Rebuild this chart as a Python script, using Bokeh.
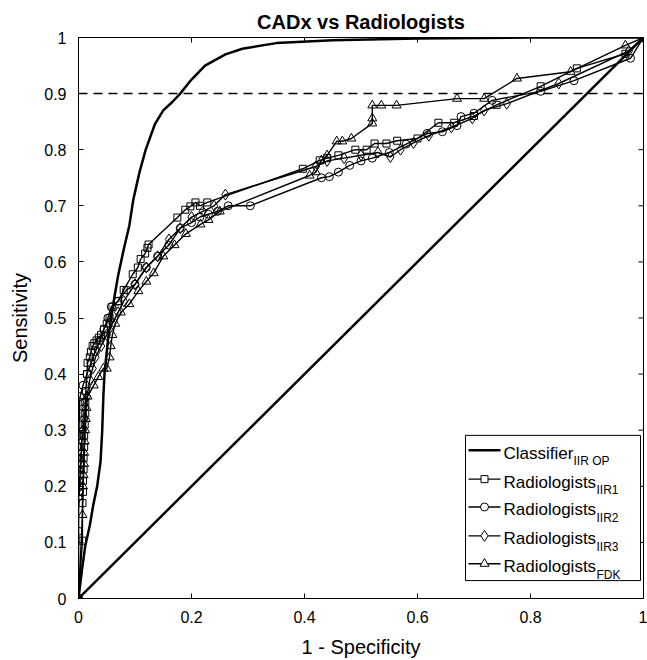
import math
from bokeh.plotting import figure
from bokeh.models import Range1d, FixedTicker, NumeralTickFormatter, Span
from bokeh.embed import file_html
from bokeh.resources import INLINE
from bokeh.core.properties import value

# ---------------- data ----------------
classifier_x = [0, 0.006, 0.012, 0.02, 0.026, 0.033, 0.039, 0.042, 0.044, 0.046, 0.049, 0.053,
                0.062, 0.07, 0.08, 0.09, 0.097, 0.108, 0.119, 0.135, 0.15, 0.166, 0.18, 0.2,
                0.224, 0.26, 0.29, 0.35, 0.45, 0.6, 0.8, 1.0]
classifier_y = [0, 0.05, 0.094, 0.13, 0.166, 0.2, 0.244, 0.3, 0.36, 0.4, 0.43, 0.468,
                0.528, 0.575, 0.622, 0.665, 0.711, 0.76, 0.8, 0.845, 0.87, 0.885, 0.9, 0.925,
                0.95, 0.97, 0.98, 0.99, 0.995, 0.998, 1.0, 1.0]

iir1_x = [0, 0.007, 0.007, 0.008, 0.008, 0.009, 0.009, 0.010, 0.010, 0.011, 0.012, 0.012, 0.013,
          0.015, 0.016, 0.020, 0.022, 0.025, 0.028, 0.032, 0.036, 0.040, 0.045, 0.050, 0.055,
          0.060, 0.070, 0.080, 0.096, 0.105, 0.110, 0.118, 0.122, 0.124, 0.175, 0.189, 0.198,
          0.207, 0.215, 0.228, 0.397, 0.427, 0.44, 0.46, 0.49, 0.51, 0.524, 0.545, 0.564, 0.60,
          0.637, 0.665, 0.70, 0.74, 0.818, 0.882, 0.968, 1.0]
iir1_y = [0, 0.103, 0.17, 0.19, 0.21, 0.23, 0.25, 0.27, 0.29, 0.31, 0.33, 0.35, 0.37,
          0.40, 0.42, 0.43, 0.44, 0.45, 0.455, 0.46, 0.465, 0.47, 0.48, 0.49, 0.50,
          0.52, 0.53, 0.55, 0.578, 0.59, 0.605, 0.615, 0.625, 0.631, 0.679, 0.693, 0.699,
          0.706, 0.70, 0.706, 0.766, 0.781, 0.785, 0.79, 0.80, 0.80, 0.811, 0.811, 0.816, 0.82,
          0.848, 0.848, 0.86, 0.88, 0.913, 0.945, 0.971, 1.0]

iir2_x = [0, 0.0, 0.0, 0.0, 0.0, 0.0, 0.0, 0.001, 0.001, 0.002, 0.002, 0.003, 0.008, 0.015,
          0.022, 0.030, 0.038, 0.045, 0.052, 0.058, 0.07, 0.085, 0.10, 0.12, 0.14, 0.16, 0.18,
          0.20, 0.215, 0.23, 0.246, 0.265, 0.304, 0.43, 0.444, 0.46, 0.48, 0.50, 0.52, 0.55,
          0.58, 0.617, 0.644, 0.67, 0.677, 0.70, 0.732, 0.818, 0.877, 0.977, 1.0]
iir2_y = [0, 0.12, 0.19, 0.21, 0.23, 0.25, 0.27, 0.29, 0.31, 0.33, 0.35, 0.36, 0.38, 0.40,
          0.42, 0.44, 0.46, 0.48, 0.50, 0.52, 0.53, 0.55, 0.56, 0.59, 0.61, 0.63, 0.66,
          0.67, 0.68, 0.685, 0.69, 0.70, 0.70, 0.75, 0.752, 0.76, 0.772, 0.78, 0.785, 0.795,
          0.81, 0.829, 0.832, 0.843, 0.859, 0.865, 0.888, 0.904, 0.923, 0.963, 1.0]

iir3_x = [0, 0.0, 0.002, 0.003, 0.004, 0.005, 0.006, 0.008, 0.01, 0.012, 0.015, 0.02, 0.025,
          0.03, 0.04, 0.05, 0.06, 0.07, 0.08, 0.10, 0.12, 0.14, 0.16, 0.18, 0.20, 0.22, 0.24,
          0.26, 0.42, 0.44, 0.47, 0.50, 0.53, 0.552, 0.57, 0.593, 0.62, 0.66, 0.697, 0.718,
          0.758, 0.85, 0.974, 1.0]
iir3_y = [0, 0.18, 0.20, 0.22, 0.24, 0.26, 0.28, 0.30, 0.32, 0.34, 0.36, 0.39, 0.41,
          0.43, 0.45, 0.47, 0.49, 0.51, 0.53, 0.56, 0.59, 0.61, 0.64, 0.66, 0.68, 0.69, 0.70,
          0.72, 0.77, 0.78, 0.785, 0.79, 0.795, 0.787, 0.80, 0.812, 0.825, 0.84, 0.856, 0.87,
          0.882, 0.918, 0.976, 1.0]

fdk_x = [0, 0.007, 0.008, 0.009, 0.010, 0.010, 0.011, 0.012, 0.013, 0.014, 0.016, 0.027,
         0.035, 0.044, 0.05, 0.055, 0.057, 0.06, 0.065, 0.075, 0.09, 0.106, 0.12, 0.133, 0.15,
         0.17, 0.19, 0.216, 0.23, 0.25, 0.409, 0.42, 0.43, 0.44, 0.457, 0.467, 0.483, 0.52,
         0.52, 0.52, 0.536, 0.563, 0.67, 0.718, 0.776, 0.871, 0.968, 1.0]
fdk_y = [0, 0.149, 0.20, 0.22, 0.24, 0.26, 0.28, 0.30, 0.32, 0.34, 0.36, 0.38,
         0.395, 0.41, 0.41, 0.43, 0.45, 0.47, 0.49, 0.51, 0.525, 0.548, 0.565, 0.58, 0.61,
         0.63, 0.65, 0.667, 0.675, 0.69, 0.754, 0.76, 0.781, 0.79, 0.815, 0.815, 0.82, 0.847,
         0.856, 0.879, 0.879, 0.879, 0.891, 0.891, 0.927, 0.939, 0.986, 1.0]

x_ticks = [0, 0.2, 0.4, 0.6, 0.8, 1.0]
y_ticks = [0, 0.1, 0.2, 0.3, 0.4, 0.5, 0.6, 0.7, 0.8, 0.9, 1.0]
target_sensitivity = 0.9

legend_names = ["Classifier", "Radiologists", "Radiologists", "Radiologists", "Radiologists"]
legend_subs = ["IIR OP", "IIR1", "IIR2", "IIR3", "FDK"]

# ---------------- figure ----------------
FONT = "Liberation Sans"
p = figure(width=647, height=660, output_backend="svg", toolbar_location=None,
           x_range=Range1d(0, 1), y_range=Range1d(0, 1),
           min_border_left=78, min_border_right=4, min_border_top=37, min_border_bottom=59,
           title="CADx vs Radiologists")
p.title.align = "center"
p.title.text_font = FONT
p.title.text_font_size = "20px"
p.title.text_font_style = "bold"
p.title.text_color = "black"
p.xgrid.visible = False
p.ygrid.visible = False
p.outline_line_color = "black"
p.outline_line_alpha = 1
p.background_fill_color = "white"
p.border_fill_color = "white"

def style_axis(ax, ticks):
    ax.ticker = FixedTicker(ticks=ticks)
    ax.formatter = NumeralTickFormatter(format="0.[0]")
    ax.major_tick_in = 5
    ax.major_tick_out = 0
    ax.minor_tick_line_color = None
    ax.axis_line_color = "black"
    ax.major_tick_line_color = "black"
    ax.major_label_text_font = FONT
    ax.major_label_text_color = "black"
    ax.major_label_text_font_size = "16px"
    ax.major_label_standoff = 12
    ax.axis_label_text_font = FONT
    ax.axis_label_text_font_size = "20px"
    ax.axis_label_text_font_style = "normal"
    ax.axis_label_text_color = "black"
    ax.axis_label_standoff = 10

style_axis(p.xaxis[0], x_ticks)
style_axis(p.yaxis[0], y_ticks)
p.xaxis[0].axis_label = "1 - Specificity"
p.yaxis[0].axis_label = "Sensitivity"

# inward ticks on the top and right edges of the box
p.ray(x=x_ticks, y=[1] * len(x_ticks), length=5, length_units="screen",
      angle=-math.pi / 2, line_color="black", line_width=1)
p.ray(x=[1] * len(y_ticks), y=y_ticks, length=5, length_units="screen",
      angle=math.pi, line_color="black", line_width=1)

# chance line and target sensitivity
p.line([0, 1], [0, 1], line_color="black", line_width=2.5)
p.add_layout(Span(location=target_sensitivity, dimension="width", line_color="black",
                  line_width=1.5, line_dash="9 6"))

# classifier
p.line(classifier_x, classifier_y, line_color="black", line_width=2.5)

series = [(iir1_x, iir1_y, "square", 7),
          (iir2_x, iir2_y, "circle", 8),
          (iir3_x, iir3_y, "diamond", 11),
          (fdk_x, fdk_y, "triangle", 9)]
for xs, ys, mk, sz in series:
    p.line(xs, ys, line_color="black", line_width=1.4)
    p.scatter(xs, ys, marker=mk, size=sz, fill_color=None, line_color="black", line_width=1)

# ---------------- legend (manual, for subscripts) ----------------
def px2x(px):
    return (px - 78) / 565.0

def px2y(py):
    return (601 - py) / 564.0

p.quad(left=[px2x(465)], right=[px2x(640)], top=[px2y(437)], bottom=[px2y(583)],
       fill_color="white", line_color="black", line_width=1)
row_py = [452, 481, 509, 538, 566]
markers = [None, "square", "circle", "diamond", "triangle"]
msizes = [0, 7, 8, 11, 9]
for i, ry in enumerate(row_py):
    lw = 2.5 if i == 0 else 1.4
    p.line([px2x(468), px2x(500)], [px2y(ry), px2y(ry)], line_color="black", line_width=lw)
    if markers[i]:
        p.scatter([px2x(484)], [px2y(ry)], marker=markers[i], size=msizes[i],
                  fill_color="white", line_color="black", line_width=1)
main_w = [70, 93, 93, 93, 93]
p.text(x=[px2x(503)] * 5, y=[px2y(ry + 3) for ry in row_py], text=legend_names,
       text_font=value(FONT), text_font_size="17px", text_baseline="alphabetic",
       text_align="left", text_color="black")
p.text(x=[px2x(503 + w) for w in main_w], y=[px2y(ry + 11) for ry in row_py], text=legend_subs,
       text_font=value(FONT), text_font_size="12px", text_baseline="alphabetic",
       text_align="left", text_color="black")

open("out.html", "w").write(file_html(p, INLINE))
